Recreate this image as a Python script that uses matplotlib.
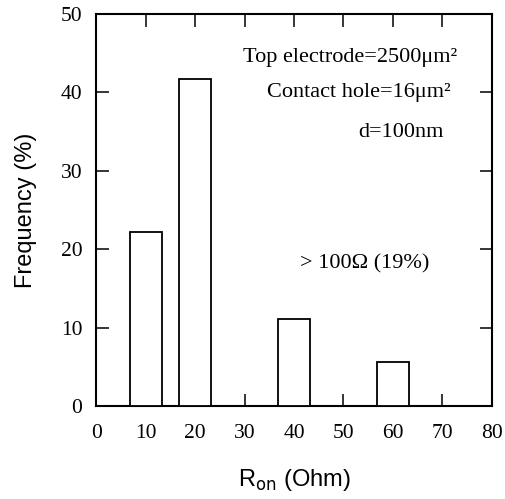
import numpy as np
import matplotlib.pyplot as plt

# Resistance bins (Ohm) and frequency (%)
r_on = [10, 20, 40, 60]
frequency = [22.2, 41.7, 11.1, 5.6]
x_ticks = [0, 10, 20, 30, 40, 50, 60, 70, 80]
y_ticks = [0, 10, 20, 30, 40, 50]

serif = "Liberation Serif"
sans = "Liberation Sans"

fig = plt.figure(figsize=(5.06, 4.99), dpi=100)
ax = fig.add_axes([0.190, 0.186, 0.782, 0.786])

ax.bar(r_on, frequency, width=6.5, facecolor="white", edgecolor="black",
       linewidth=1.3, zorder=3)

ax.set_xlim(0, 80)
ax.set_ylim(0, 50)
ax.set_xticks(x_ticks)
ax.set_yticks(y_ticks)
ax.tick_params(direction="in", length=9, width=1.1, top=True, right=True,
               labelsize=15.5)
ax.tick_params(axis="x", pad=13)
ax.tick_params(axis="y", pad=10)
for lab in ax.get_xticklabels() + ax.get_yticklabels():
    lab.set_family(serif)
for side in ax.spines.values():
    side.set_linewidth(1.5)

ax.set_xlabel(r"R$_{\mathrm{on}}$ (Ohm)", family=sans, fontsize=17, labelpad=17)
ax.set_ylabel("Frequency (%)", family=sans, fontsize=17, labelpad=17)

# annotations, in data coordinates
notes = [
    (29.7, 44.4, "Top electrode=2500\u03bcm\u00b2"),
    (34.5, 40.0, "Contact hole=16\u03bcm\u00b2"),
    (52.9, 34.9, "d=100nm"),
    (41.2, 18.1, "> 100\u03a9 (19%)"),
]
for x, y, s in notes:
    ax.text(x, y, s, family=serif, fontsize=16, va="center")

fig.savefig("out.png", dpi=100)
